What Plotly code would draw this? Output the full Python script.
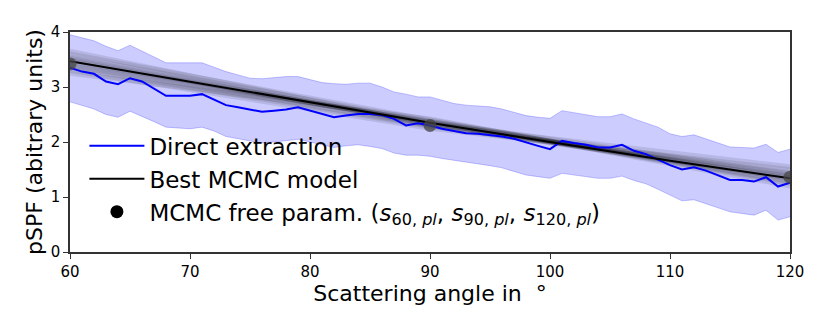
import plotly.graph_objects as go

# ângulos de espalhamento (graus)
angulos = list(range(60, 121))

# extração direta
direta = [3.35, 3.28, 3.24, 3.10, 3.05, 3.16, 3.10, 2.97, 2.84, 2.84,
          2.84, 2.87, 2.77, 2.67, 2.63, 2.59, 2.55, 2.57, 2.59, 2.63,
          2.57, 2.50, 2.45, 2.48, 2.51, 2.51, 2.49, 2.42, 2.30, 2.34,
          2.30, 2.24, 2.20, 2.16, 2.15, 2.13, 2.10, 2.06, 1.99, 1.93,
          1.87, 2.02, 1.98, 1.95, 1.90, 1.90, 1.95, 1.84, 1.78, 1.68,
          1.58, 1.50, 1.54, 1.48, 1.40, 1.31, 1.31, 1.28, 1.36, 1.19,
          1.26]
direta_sup = [3.95, 3.90, 3.84, 3.74, 3.66, 3.76, 3.65, 3.55, 3.44, 3.44,
              3.44, 3.44, 3.36, 3.28, 3.22, 3.16, 3.15, 3.17, 3.19, 3.19,
              3.13, 3.08, 3.06, 3.05, 3.07, 3.07, 3.00, 2.91, 2.87, 2.82,
              2.82, 2.76, 2.70, 2.67, 2.65, 2.64, 2.60, 2.54, 2.48, 2.45,
              2.43, 2.57, 2.53, 2.49, 2.46, 2.46, 2.51, 2.42, 2.35, 2.27,
              2.15, 2.10, 2.13, 2.06, 1.98, 1.91, 1.90, 1.89, 1.96, 1.81,
              1.87]
direta_inf = [2.73, 2.66, 2.60, 2.50, 2.45, 2.56, 2.47, 2.37, 2.27, 2.25,
              2.24, 2.27, 2.20, 2.10, 2.06, 2.02, 1.98, 2.00, 2.02, 2.05,
              2.00, 1.95, 1.90, 1.93, 1.95, 1.92, 1.88, 1.80, 1.76, 1.76,
              1.74, 1.70, 1.67, 1.64, 1.60, 1.57, 1.53, 1.47, 1.40, 1.37,
              1.34, 1.43, 1.40, 1.38, 1.34, 1.34, 1.38, 1.30, 1.24, 1.14,
              1.04, 0.93, 0.95, 0.88, 0.80, 0.73, 0.70, 0.67, 0.76, 0.58,
              0.64]

# melhor modelo MCMC
ang_modelo = [60, 70, 80, 90, 100, 110, 120]
melhor_modelo = [3.47, 3.10, 2.73, 2.35, 2.00, 1.66, 1.34]

# amostras MCMC (valores em 60, 90, 120)
ang_livres = [60, 90, 120]
amostras = [
    [3.47, 2.35, 1.34], [3.40, 2.30, 1.38], [3.55, 2.38, 1.30],
    [3.35, 2.28, 1.45], [3.60, 2.40, 1.25], [3.30, 2.25, 1.50],
    [3.50, 2.33, 1.40], [3.44, 2.36, 1.28], [3.65, 2.32, 1.55],
    [3.25, 2.42, 1.20], [3.52, 2.31, 1.35], [3.38, 2.37, 1.42],
]
param_livres = [3.42, 2.30, 1.36]

fig = go.Figure()

# banda da extração direta
fig.add_trace(go.Scatter(x=angulos, y=direta_inf, mode='lines',
                         line=dict(color='rgba(0,0,255,0.22)', width=1),
                         showlegend=False, hoverinfo='skip'))
fig.add_trace(go.Scatter(x=angulos, y=direta_sup, mode='lines', fill='tonexty',
                         fillcolor='rgba(0,0,255,0.2)',
                         line=dict(color='rgba(0,0,255,0.22)', width=1),
                         showlegend=False, hoverinfo='skip'))

# amostras MCMC em cinza
for a in amostras:
    fig.add_trace(go.Scatter(x=ang_livres, y=a, mode='lines',
                             line=dict(color='rgba(0,0,0,0.1)', width=5),
                             showlegend=False, hoverinfo='skip'))

fig.add_trace(go.Scatter(x=angulos, y=direta, mode='lines', name='Direct extraction',
                         line=dict(color='blue', width=2)))
fig.add_trace(go.Scatter(x=ang_modelo, y=melhor_modelo, mode='lines', name='Best MCMC model',
                         line=dict(color='black', width=2)))

# pontos livres (cinza no gráfico, preto na legenda)
fig.add_trace(go.Scatter(x=ang_livres, y=param_livres, mode='markers',
                         marker=dict(color='rgba(70,70,70,0.75)', size=13),
                         showlegend=False))
fig.add_trace(go.Scatter(x=[None], y=[None], mode='markers',
                         marker=dict(color='black', size=13),
                         name='MCMC free param. (<i>s</i><sub>60, <i>pl</i></sub>, '
                              '<i>s</i><sub>90, <i>pl</i></sub>, <i>s</i><sub>120, <i>pl</i></sub>)'))

eixo = dict(showline=True, linecolor='#333', linewidth=1.5, mirror=True,
            ticks='outside', ticklen=5, tickcolor='#333', showgrid=False,
            zeroline=False, tickfont=dict(size=15, color='black'))

# a página tem 8px de margem no body
fig.update_layout(
    width=830, height=332,
    margin=dict(l=62, r=48, t=24, b=88),
    paper_bgcolor='white', plot_bgcolor='white',
    font=dict(family='DejaVu Sans', color='black'),
    xaxis=dict(range=[60, 120], dtick=10,
               title=dict(text='Scattering angle in  °', font=dict(size=22), standoff=2), **eixo),
    yaxis=dict(range=[0, 4], dtick=1,
               title=dict(text='pSPF (abitrary units)', font=dict(size=22), standoff=2), **eixo),
    legend=dict(x=0.02, y=0.58, xanchor='left', yanchor='top', itemwidth=55,
                bgcolor='rgba(0,0,0,0)', font=dict(size=23), traceorder='normal'),
)

fig.write_html("out.html")
